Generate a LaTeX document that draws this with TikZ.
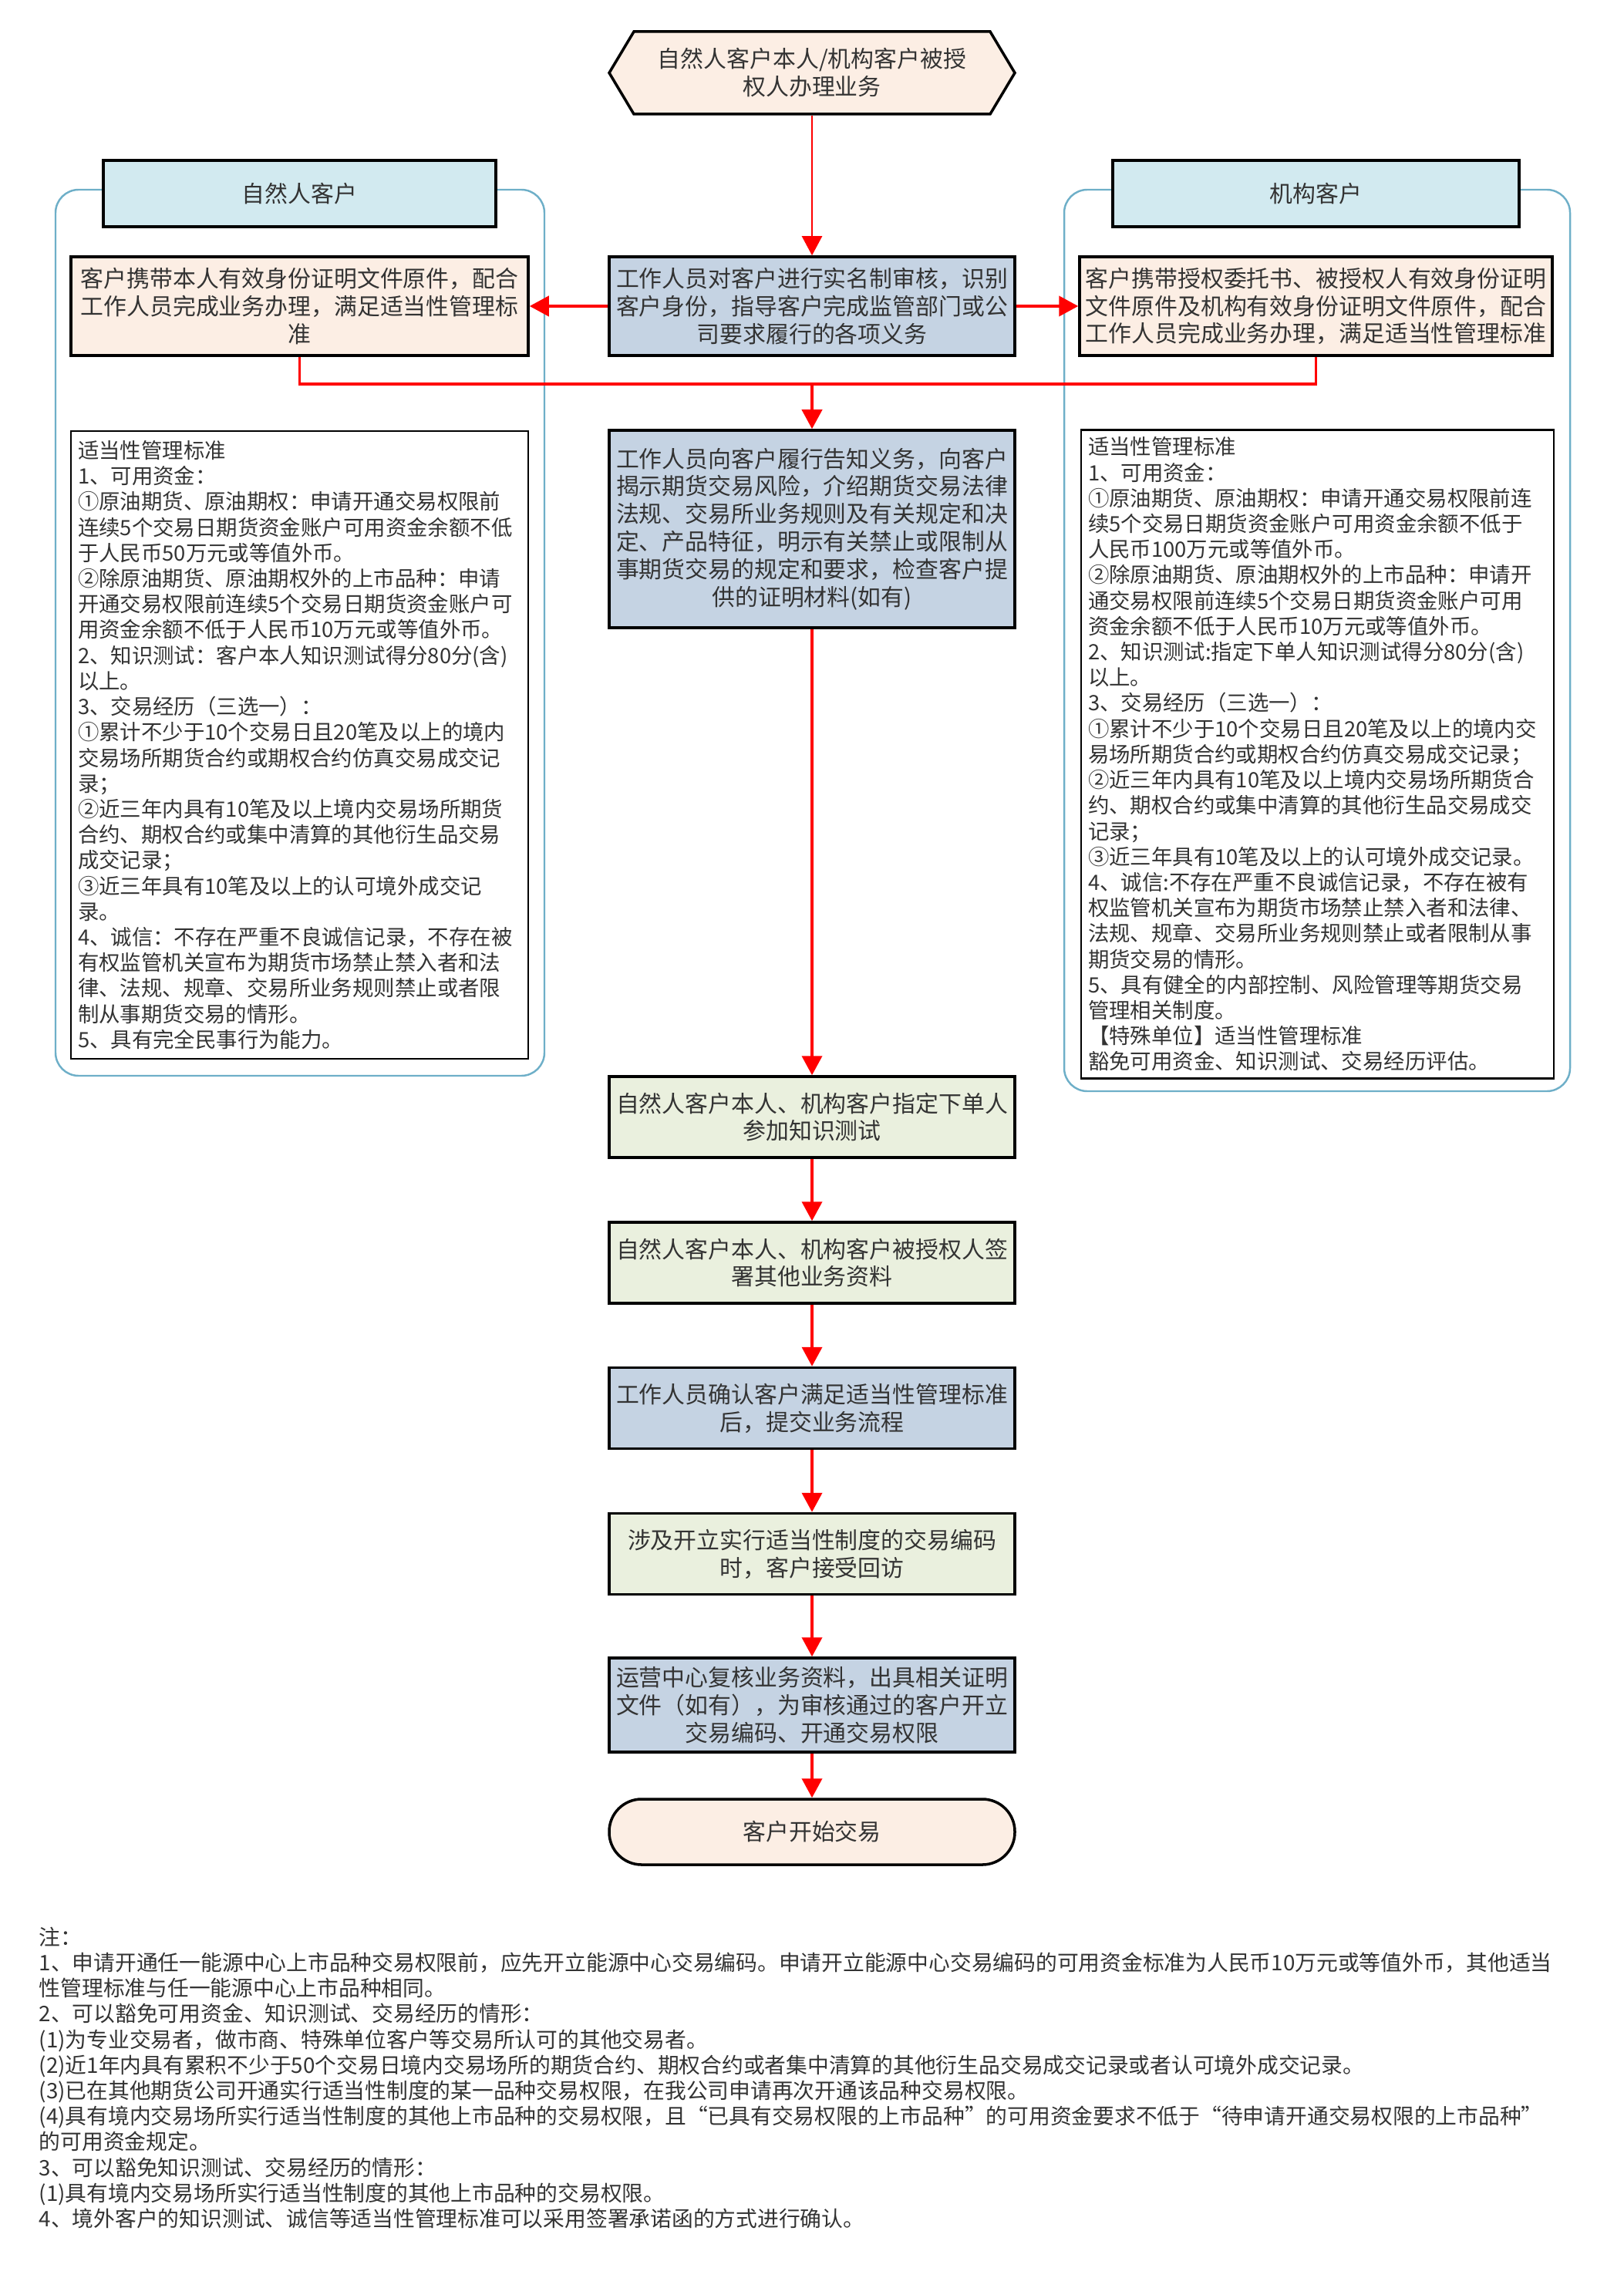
\documentclass[tikz,border=0pt]{standalone}
\usepackage{fontspec}
\setmainfont{Noto Sans CJK SC}
\usetikzlibrary{arrows.meta}
\definecolor{peach}{RGB}{252,238,228}
\definecolor{headcyan}{RGB}{210,234,240}
\definecolor{stepblue}{RGB}{197,211,227}
\definecolor{stepgreen}{RGB}{234,240,222}
\definecolor{panelteal}{RGB}{110,175,200}
\begin{document}
\begin{tikzpicture}[
  box/.style={draw=black, line width=1pt, text=black!80, align=center,
    font=\fontsize{8.5pt}{10.2pt}\selectfont, inner sep=1pt},
  stepbox/.style={box, minimum width=5.26cm, minimum height=1.05cm},
  sidebox/.style={box, fill=peach, minimum height=1.28cm},
  headbox/.style={box, fill=headcyan, minimum height=0.86cm},
  rulebox/.style={draw=black, line width=0.8pt, text=black!80, align=left,
    font=\fontsize{7.8pt}{9.45pt}\selectfont, inner sep=0.9mm},
  panel/.style={draw=panelteal, line width=0.7pt, rounded corners=0.3cm},
  flow/.style={draw=red, line width=1.1pt, -{Triangle[width=2.6mm,length=2.5mm]}},
  thinflow/.style={flow, line width=0.7pt},
  link/.style={draw=red, line width=1.1pt},
  notes/.style={text=black!80, align=left, inner sep=0pt,
    font=\fontsize{7.9pt}{9.45pt}\selectfont}
]
    \useasboundingbox (0,0) rectangle (21.05,-29.54);

    % Side panels
    \draw[panel] (0.72,-2.46) rectangle (7.06,-13.95);
    \draw[panel] (13.80,-2.46) rectangle (20.36,-14.15);

    % Start
    \path[fill=peach, draw=black, line width=1pt]
      (7.90,-0.945) -- (8.22,-0.41) -- (12.84,-0.41) -- (13.16,-0.945)
      -- (12.84,-1.48) -- (8.22,-1.48) -- cycle;
    \node[box, draw=none, minimum width=5.26cm, minimum height=1.07cm]
          (start) at (10.53,-0.945) {自然人客户本人/机构客户被授\\权人办理业务};

    % Column heads
    \node[headbox, minimum width=5.09cm] (headL) at (3.885,-2.51) {自然人客户};
    \node[headbox, minimum width=5.27cm] (headR) at (17.065,-2.51) {机构客户};

    % Identity check
    \node[stepbox, fill=stepblue, minimum height=1.28cm] (check) at (10.53,-3.97)
      {工作人员对客户进行实名制审核，识别\\客户身份，指导客户完成监管部门或公\\司要求履行的各项义务};
    \node[sidebox, minimum width=5.93cm] (peachL) at (3.885,-3.97)
      {客户携带本人有效身份证明文件原件，配合\\工作人员完成业务办理，满足适当性管理标\\准};
    \node[sidebox, minimum width=6.13cm] (peachR) at (17.065,-3.97)
      {客户携带授权委托书、被授权人有效身份证明\\文件原件及机构有效身份证明文件原件，配合\\工作人员完成业务办理，满足适当性管理标准};

    % Suitability rules
    \node[rulebox, text width=5.75cm, minimum height=8.14cm] (rulesL) at (3.885,-9.66)
      {适当性管理标准\\
       1、可用资金：\\
       ①原油期货、原油期权：申请开通交易权限前\\
       连续5个交易日期货资金账户可用资金余额不低\\
       于人民币50万元或等值外币。\\
       ②除原油期货、原油期权外的上市品种：申请\\
       开通交易权限前连续5个交易日期货资金账户可\\
       用资金余额不低于人民币10万元或等值外币。\\
       2、知识测试：客户本人知识测试得分80分(含)\\
       以上。\\
       3、交易经历（三选一）：\\
       ①累计不少于10个交易日且20笔及以上的境内\\
       交易场所期货合约或期权合约仿真交易成交记\\
       录；\\
       ②近三年内具有10笔及以上境内交易场所期货\\
       合约、期权合约或集中清算的其他衍生品交易\\
       成交记录；\\
       ③近三年具有10笔及以上的认可境外成交记\\
       录。\\
       4、诚信：不存在严重不良诚信记录，不存在被\\
       有权监管机关宣布为期货市场禁止禁入者和法\\
       律、法规、规章、交易所业务规则禁止或者限\\
       制从事期货交易的情形。\\
       5、具有完全民事行为能力。};
    \node[rulebox, text width=5.95cm, minimum height=8.4cm] (rulesR) at (17.085,-9.78)
      {适当性管理标准\\
       1、可用资金：\\
       ①原油期货、原油期权：申请开通交易权限前连\\
       续5个交易日期货资金账户可用资金余额不低于\\
       人民币100万元或等值外币。\\
       ②除原油期货、原油期权外的上市品种：申请开\\
       通交易权限前连续5个交易日期货资金账户可用\\
       资金余额不低于人民币10万元或等值外币。\\
       2、知识测试:指定下单人知识测试得分80分(含)\\
       以上。\\
       3、交易经历（三选一）：\\
       ①累计不少于10个交易日且20笔及以上的境内交\\
       易场所期货合约或期权合约仿真交易成交记录；\\
       ②近三年内具有10笔及以上境内交易场所期货合\\
       约、期权合约或集中清算的其他衍生品交易成交\\
       记录；\\
       ③近三年具有10笔及以上的认可境外成交记录。\\
       4、诚信:不存在严重不良诚信记录，不存在被有\\
       权监管机关宣布为期货市场禁止禁入者和法律、\\
       法规、规章、交易所业务规则禁止或者限制从事\\
       期货交易的情形。\\
       5、具有健全的内部控制、风险管理等期货交易\\
       管理相关制度。\\
       【特殊单位】适当性管理标准\\
       豁免可用资金、知识测试、交易经历评估。};

    % Main steps
    \node[stepbox, fill=stepblue, minimum height=2.56cm] (notify) at (10.53,-6.86)
      {工作人员向客户履行告知义务，向客户\\揭示期货交易风险，介绍期货交易法律\\法规、交易所业务规则及有关规定和决\\定、产品特征，明示有关禁止或限制从\\事期货交易的规定和要求，检查客户提\\供的证明材料(如有)};
    \node[stepbox, fill=stepgreen] (know) at (10.53,-14.485)
      {自然人客户本人、机构客户指定下单人\\参加知识测试};
    \node[stepbox, fill=stepgreen] (sign) at (10.53,-16.375)
      {自然人客户本人、机构客户被授权人签\\署其他业务资料};
    \node[stepbox, fill=stepblue] (confirm) at (10.53,-18.26)
      {工作人员确认客户满足适当性管理标准\\后，提交业务流程};
    \node[stepbox, fill=stepgreen] (visit) at (10.53,-20.15)
      {涉及开立实行适当性制度的交易编码\\时，客户接受回访};
    \node[stepbox, fill=stepblue, minimum height=1.22cm] (review) at (10.53,-22.11)
      {运营中心复核业务资料，出具相关证明\\文件（如有），为审核通过的客户开立\\交易编码、开通交易权限};
    \node[stepbox, fill=peach, minimum height=0.85cm, rounded corners=0.42cm] (trade) at (10.53,-23.755)
      {客户开始交易};

    % Connections
    \draw[thinflow] (start) -- (check);
    \draw[flow] (check) -- (peachL);
    \draw[flow] (check) -- (peachR);
    \coordinate (join) at (10.53,-4.98);
    \draw[link] (peachL.south) |- (join) -| (peachR.south);
    \draw[flow] (join) -- (notify);
    \foreach \i/\j in {notify/know, know/sign, sign/confirm, confirm/visit, visit/review, review/trade} {
        \draw[flow] (\i) -- (\j);
    }

    % Notes
    \node[notes, anchor=north west] (remark) at (0.50,-24.98)
      {注：\\
       1、申请开通任一能源中心上市品种交易权限前，应先开立能源中心交易编码。申请开立能源中心交易编码的可用资金标准为人民币10万元或等值外币，其他适当\\
       性管理标准与任一能源中心上市品种相同。\\
       2、可以豁免可用资金、知识测试、交易经历的情形：\\
       (1)为专业交易者，做市商、特殊单位客户等交易所认可的其他交易者。\\
       (2)近1年内具有累积不少于50个交易日境内交易场所的期货合约、期权合约或者集中清算的其他衍生品交易成交记录或者认可境外成交记录。\\
       (3)已在其他期货公司开通实行适当性制度的某一品种交易权限，在我公司申请再次开通该品种交易权限。\\
       (4)具有境内交易场所实行适当性制度的其他上市品种的交易权限，且“已具有交易权限的上市品种”的可用资金要求不低于“待申请开通交易权限的上市品种”\\
       的可用资金规定。\\
       3、可以豁免知识测试、交易经历的情形：\\
       (1)具有境内交易场所实行适当性制度的其他上市品种的交易权限。\\
       4、境外客户的知识测试、诚信等适当性管理标准可以采用签署承诺函的方式进行确认。};
\end{tikzpicture}
\end{document}
